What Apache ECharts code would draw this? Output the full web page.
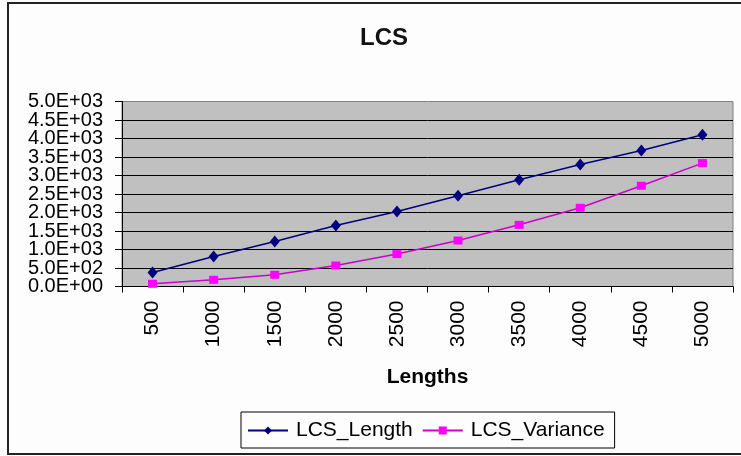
<!DOCTYPE html>
<html>
<head>
<meta charset="utf-8">
<script src="https://cdn.jsdelivr.net/npm/echarts@6/dist/echarts.min.js"></script>
<style>
html,body{margin:0;padding:0;background:#fdfdfd;}
#wrap{position:relative;width:741px;height:456px;overflow:hidden;}
#chart{position:absolute;left:0;top:0;width:741px;height:456px;}
#frame{position:absolute;left:7px;top:2px;width:750px;height:449px;border-left:2px solid #222;border-top:2px solid #222;border-bottom:2px solid #222;pointer-events:none;}
</style>
</head>
<body>
<div id="wrap"><div id="chart"></div><div id="frame"></div></div>
<script>
var categories = ['500','1000','1500','2000','2500','3000','3500','4000','4500','5000'];
var lcsLength = [378, 811, 1216, 1649, 2027, 2451, 2884, 3297, 3676, 4100];
var lcsVariance = [73, 181, 316, 568, 876, 1243, 1667, 2127, 2722, 3335];
var yTickLabels = ['0.0E+00','5.0E+02','1.0E+03','1.5E+03','2.0E+03','2.5E+03','3.0E+03','3.5E+03','4.0E+03','4.5E+03','5.0E+03'];

var FONT = '"Liberation Sans", Arial, sans-serif';
function yLabelAxis(parity, main) {
  return {
    type: 'value',
    position: 'left',
    min: 0, max: 5000, interval: 500,
    axisLine: {show: main, lineStyle: {color: '#000', width: 1}},
    axisTick: {show: main, length: 7, lineStyle:{color:'#000'}},
    axisLabel: {
      margin: 19, fontFamily: FONT, fontSize: 20, color: '#000',
      showMinLabel: true, showMaxLabel: true,
      formatter: function (v) {
        var i = Math.round(v / 500);
        return (i % 2 === parity) ? yTickLabels[i] : '';
      }
    },
    splitLine: {show: main, showMaxLine: false, lineStyle: {color: '#000', width: 1}}
  };
}
var chart = echarts.init(document.getElementById('chart'), null, {renderer:'canvas'});
chart.setOption({
  backgroundColor: 'transparent',
  animation: false,
  title: {
    text: 'LCS',
    left: 379, top: 21, textAlign: 'center',
    textStyle: {fontFamily: FONT, fontSize: 24, fontWeight: 'bold', color: '#111'}
  },
  legend: {
    data: ['LCS_Length','LCS_Variance'],
    left: 241, top: 412,
    borderColor: '#000', borderWidth: 1,
    padding: [8, 10, 7, 6],
    itemWidth: 40, itemHeight: 10, itemGap: 9,
    textStyle: {fontFamily: FONT, fontSize: 21, color: '#000', padding:[0,0,0,3]}
  },
  grid: {
    left: 122, right: 8, top: 101.5, bottom: 169.5,
    show: true, backgroundColor: '#c0c0c0', borderColor: '#808080', borderWidth: 1
  },
  xAxis: {
    type: 'category',
    data: categories,
    name: 'Lengths',
    nameLocation: 'middle',
    nameGap: 80,
    nameTextStyle: {fontFamily: FONT, fontSize: 21, fontWeight: 'bold', color: '#000'},
    axisLine: {lineStyle: {color: '#000', width: 1}},
    axisTick: {show: true, alignWithLabel: false, length: 6, lineStyle:{color:'#000'}},
    axisLabel: {rotate: 90, margin: 14, fontFamily: FONT, fontSize: 21, color: '#000', interval: 0}
  },
  yAxis: [yLabelAxis(0, true), yLabelAxis(1, false)],
  series: [
    {
      name: 'LCS_Length', type: 'line', data: lcsLength, yAxisIndex: 0,
      symbol: 'diamond', symbolSize: [10, 12],
      itemStyle: {color: '#000080'},
      lineStyle: {color: '#000080', width: 1.5}
    },
    {
      name: 'LCS_Variance', type: 'line', data: lcsVariance, yAxisIndex: 0,
      symbol: 'rect', symbolSize: [9, 8],
      itemStyle: {color: '#ff00ff'},
      lineStyle: {color: '#cc00cc', width: 1.5}
    }
  ]
});
</script>
</body>
</html>
